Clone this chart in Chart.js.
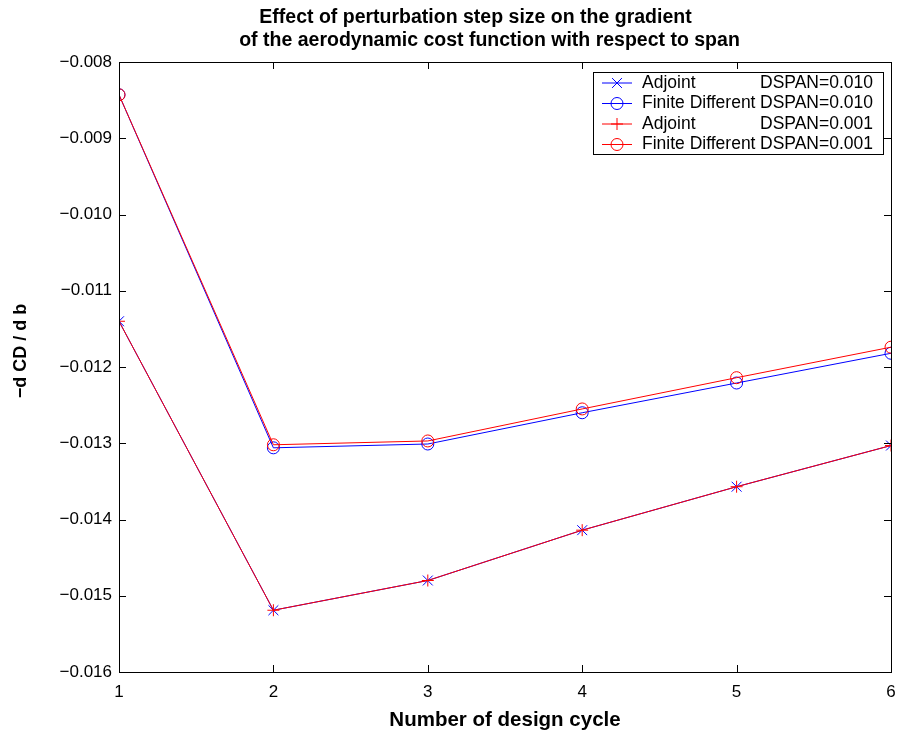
<!DOCTYPE html>
<html>
<head>
<meta charset="utf-8">
<title>Perturbation step size</title>
<script src="https://cdn.jsdelivr.net/npm/chart.js@4.4.0/dist/chart.umd.min.js"></script>
<style>
  html, body { margin: 0; padding: 0; background: #fff; }
  #wrap { width: 899px; height: 736px; }
</style>
</head>
<body>
<div id="wrap"><canvas id="spanGrad" width="899" height="736"></canvas></div>
<script>
// design cycles and gradient values (-dCD/db)
const cycles = [1, 2, 3, 4, 5, 6];
const adjoint010 = [-0.01140, -0.01519, -0.01480, -0.01414, -0.01357, -0.01303];
const finiteDiff010 = [-0.00843, -0.01306, -0.01301, -0.01260, -0.01221, -0.01182];
const adjoint001 = [-0.01140, -0.01519, -0.01480, -0.01414, -0.01357, -0.01303];
const finiteDiff001 = [-0.00843, -0.01302, -0.01297, -0.01255, -0.01214, -0.01174];

const yTicks = [-0.016, -0.015, -0.014, -0.013, -0.012, -0.011, -0.010, -0.009, -0.008];
const xTicks = [1, 2, 3, 4, 5, 6];

const titleLines = ['Effect of perturbation step size on the gradient',
                    'of the aerodynamic cost function with respect to span'];
const legendNames = [['Adjoint', 'DSPAN=0.010'], ['Finite Different', 'DSPAN=0.010'],
                     ['Adjoint', 'DSPAN=0.001'], ['Finite Different', 'DSPAN=0.001']];

const FONT = '"Liberation Sans", Arial, Helvetica, sans-serif';
const BLUE = '#0000ff';
const RED = '#ff0000';

function toXY(vals) {
    return vals.map((v, i) => ({ x: cycles[i], y: v }));
}

function series(label, vals, color, style, radius, order) {
    return {
        label: label,
        data: toXY(vals),
        borderColor: color,
        backgroundColor: 'rgba(0,0,0,0)',
        borderWidth: 1,
        pointStyle: style,
        pointRadius: radius,
        pointBorderColor: color,
        pointBackgroundColor: 'rgba(0,0,0,0)',
        pointBorderWidth: 1,
        pointHoverRadius: radius,
        tension: 0,
        fill: false,
        order: order
    };
}

// box, inward ticks, legend and titles
const matlabFrame = {
    id: 'matlabFrame',
    afterDatasetsDraw(chart) {
        const ctx = chart.ctx;
        const a = chart.chartArea;
        const xs = chart.scales.x, ys = chart.scales.y;
        const tl = 7;
        ctx.save();
        ctx.strokeStyle = '#000';
        ctx.lineWidth = 1;
        ctx.beginPath();
        xTicks.forEach(t => {
            const px = Math.round(xs.getPixelForValue(t)) + 0.5;
            ctx.moveTo(px, a.bottom); ctx.lineTo(px, a.bottom - tl);
            ctx.moveTo(px, a.top); ctx.lineTo(px, a.top + tl);
        });
        yTicks.forEach(t => {
            const py = Math.round(ys.getPixelForValue(t)) + 0.5;
            ctx.moveTo(a.left, py); ctx.lineTo(a.left + tl, py);
            ctx.moveTo(a.right, py); ctx.lineTo(a.right - tl, py);
        });
        ctx.stroke();
        ctx.strokeRect(Math.round(a.left) + 0.5, Math.round(a.top) + 0.5,
                       Math.round(a.right - a.left), Math.round(a.bottom - a.top));

        // legend
        const lx = a.right - 298, ly = a.top + 10, lw = 290, lh = 82;
        ctx.fillStyle = '#fff';
        ctx.fillRect(lx, ly, lw, lh);
        ctx.strokeRect(lx + 0.5, ly + 0.5, lw, lh);
        ctx.font = '17.5px ' + FONT;
        ctx.textBaseline = 'middle';
        chart.data.datasets.forEach((ds, i) => {
            const rowY = ly + 11 + i * 20.5;
            ctx.strokeStyle = ds.borderColor;
            ctx.beginPath();
            ctx.moveTo(lx + 9, rowY); ctx.lineTo(lx + 39, rowY);
            ctx.stroke();
            ctx.fillStyle = 'rgba(0,0,0,0)';
            Chart.helpers.drawPoint(ctx, {
                pointStyle: ds.pointStyle, radius: ds.pointRadius,
                rotation: 0, borderWidth: 1
            }, lx + 24, rowY);
            ctx.fillStyle = '#000';
            ctx.textAlign = 'left';
            ctx.fillText(legendNames[i][0], lx + 49, rowY);
            ctx.textAlign = 'right';
            ctx.fillText(legendNames[i][1], lx + lw - 10, rowY);
        });

        // titles
        const cx = (a.left + a.right) / 2;
        ctx.fillStyle = '#000';
        ctx.font = 'bold 19.5px ' + FONT;
        ctx.textAlign = 'center';
        ctx.fillText(titleLines[0], cx - 29.5, 18);
        ctx.fillText(titleLines[1], cx - 15.5, 41);

        ctx.font = 'bold 20.5px ' + FONT;
        ctx.fillText('Number of design cycle', cx, 720);

        ctx.font = 'bold 18px ' + FONT;
        ctx.save();
        ctx.translate(21, (a.top + a.bottom) / 2 - 16);
        ctx.rotate(-Math.PI / 2);
        ctx.fillText('\u2212d CD / d b', 0, 0);
        ctx.restore();

        ctx.restore();
    }
};

new Chart(document.getElementById('spanGrad').getContext('2d'), {
    type: 'line',
    data: {
        datasets: [
            series('Adjoint DSPAN=0.010', adjoint010, BLUE, 'crossRot', 7, 2),
            series('Finite Different DSPAN=0.010', finiteDiff010, BLUE, 'circle', 6, 2),
            series('Adjoint DSPAN=0.001', adjoint001, RED, 'cross', 6, 1),
            series('Finite Different DSPAN=0.001', finiteDiff001, RED, 'circle', 6, 1)
        ]
    },
    options: {
        responsive: false,
        animation: false,
        layout: { padding: { top: 62, right: 8, left: 0, bottom: 0 } },
        scales: {
            x: {
                type: 'linear',
                min: 1,
                max: 6,
                afterFit: s => { s.height = 64; s.paddingLeft = 0; s.paddingRight = 0; },
                afterBuildTicks: s => { s.ticks = xTicks.map(v => ({ value: v })); },
                grid: { display: false, drawTicks: false },
                border: { display: false },
                ticks: { color: '#000', padding: 10, font: { family: FONT, size: 17 } }
            },
            y: {
                type: 'linear',
                min: -0.016,
                max: -0.008,
                afterFit: s => { s.width = 119; s.paddingTop = 0; s.paddingBottom = 0; },
                afterBuildTicks: s => { s.ticks = yTicks.map(v => ({ value: v })); },
                grid: { display: false, drawTicks: false },
                border: { display: false },
                ticks: {
                    color: '#000',
                    padding: 7,
                    font: { family: FONT, size: 17 },
                    callback: v => (v < 0 ? '\u2212' : '') + Math.abs(v).toFixed(3)
                }
            }
        },
        plugins: {
            legend: { display: false },
            tooltip: { enabled: false }
        }
    },
    plugins: [matlabFrame]
});
</script>
</body>
</html>
